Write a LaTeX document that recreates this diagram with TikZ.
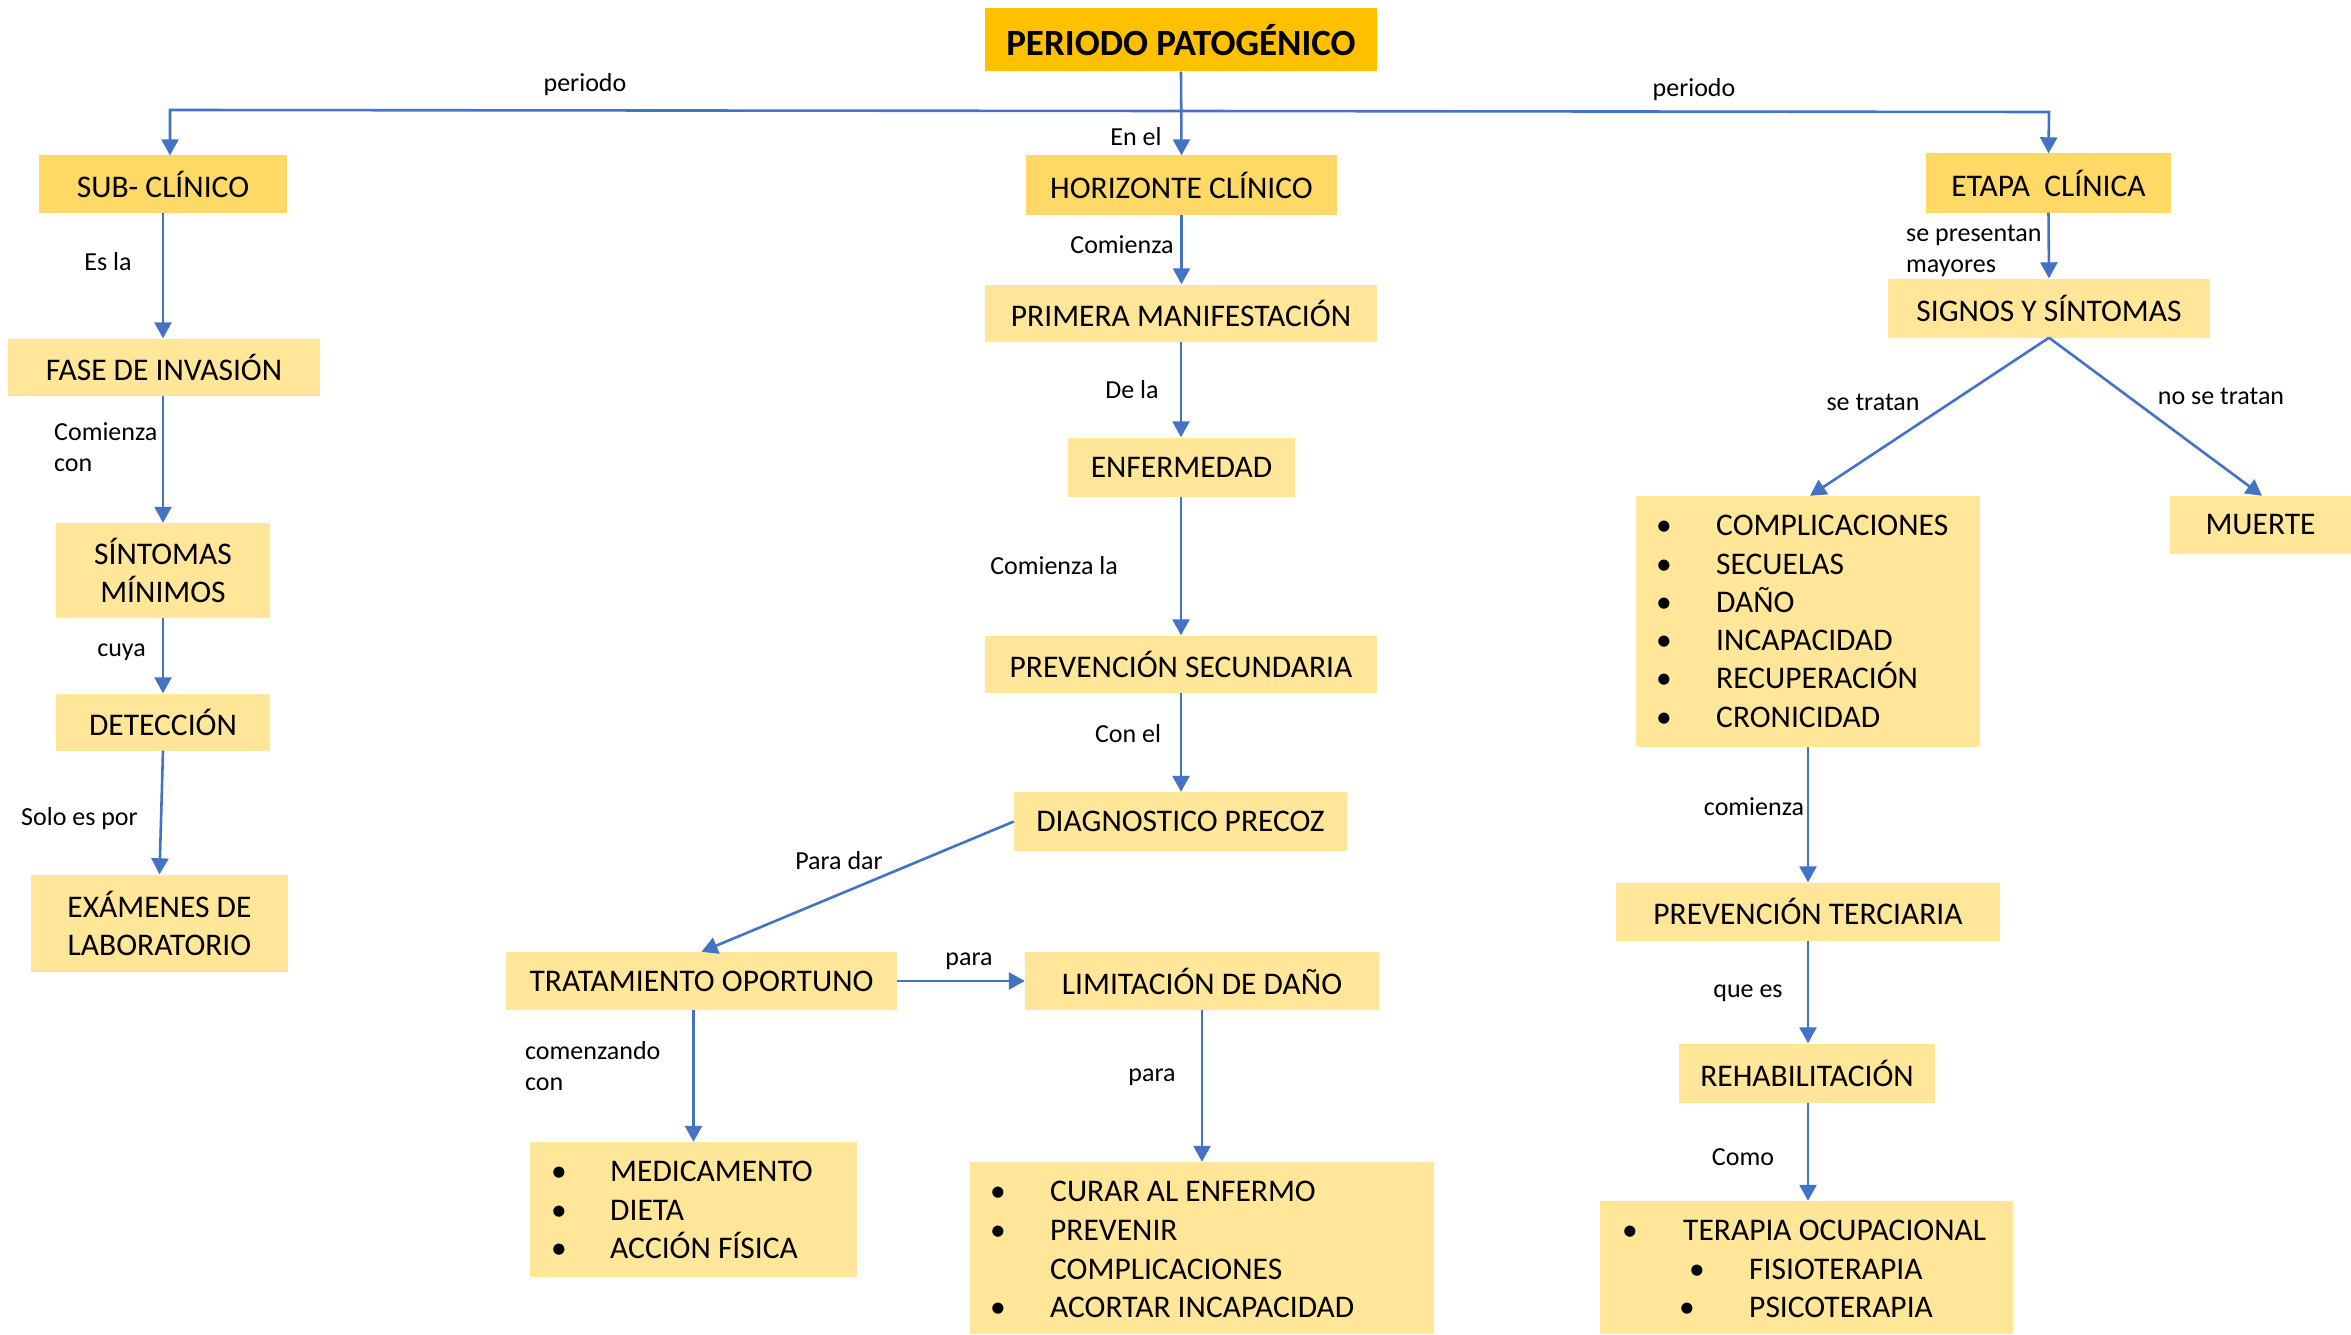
\documentclass[tikz,border=0pt]{standalone}
\usepackage{fontspec}
\setmainfont{Carlito}
\usetikzlibrary{arrows.meta,calc}
\definecolor{cTop}{HTML}{FFC000}
\definecolor{cMid}{HTML}{FFD966}
\definecolor{cBox}{HTML}{FFE699}
\definecolor{cArr}{HTML}{4472C4}
\begin{document}
\begin{tikzpicture}[x=1pt,y=-1pt,
 box/.style={fill=cBox, inner sep=0pt, font=\fontsize{31.5}{38}\selectfont, align=center},
 hbox/.style={box, fill=cMid},
 lbl/.style={inner sep=0pt, font=\fontsize{26}{31.5}\selectfont, align=left},
 itm/.style={inner sep=0pt, anchor=base west, font=\fontsize{31.5}{38}\selectfont},
 arr/.style={draw=cArr, line width=2.6pt, -{Triangle[length=16pt,width=17pt]}},
 ]
\fill[white] (0,0) rectangle (2351,1335);
\useasboundingbox (0,0) rectangle (2351,1335);

% ---------- boxes ----------
\node[box, fill=cTop, font=\fontsize{37}{42}\selectfont\bfseries, minimum width=392, minimum height=63] (title) at (1181,40) {PERIODO PATOGÉNICO};
\node[hbox, minimum width=248, minimum height=57] (sub) at (163,184) {SUB- CLÍNICO};
\node[hbox, minimum width=311, minimum height=59] (horiz) at (1181.5,185) {HORIZONTE CLÍNICO};
\node[hbox, minimum width=245, minimum height=59] (etapa) at (2048.5,183) {ETAPA\ \ CLÍNICA};

\node[box, minimum width=312, minimum height=57] (fase) at (164,367) {FASE DE INVASIÓN};
\node[box, minimum width=214, minimum height=95] (sint) at (163,570.5) {SÍNTOMAS\\MÍNIMOS};
\node[box, minimum width=214, minimum height=57] (detec) at (163,722) {DETECCIÓN};
\node[box, minimum width=257, minimum height=97] (exam) at (159.5,923) {EXÁMENES DE\\LABORATORIO};

\node[box, minimum width=392, minimum height=57] (prim) at (1181,313) {PRIMERA MANIFESTACIÓN};
\node[box, minimum width=227, minimum height=59] (enf) at (1181.5,467) {ENFERMEDAD};
\node[box, minimum width=392, minimum height=57] (prevsec) at (1181,664) {PREVENCIÓN SECUNDARIA};
\node[box, minimum width=333, minimum height=59] (diag) at (1180.5,821.5) {DIAGNOSTICO PRECOZ};
\node[box, minimum width=391, minimum height=58] (trat) at (701.5,981) {TRATAMIENTO OPORTUNO};
\node[box, minimum width=354, minimum height=58] (limit) at (1202,981) {LIMITACIÓN DE DAÑO};
\node[box, minimum width=327, minimum height=135] (medic) at (693.5,1209.5) {};
\node[box, minimum width=464, minimum height=172] (curar) at (1202,1248) {};

\node[box, minimum width=322, minimum height=59] (signos) at (2049,308) {SIGNOS Y SÍNTOMAS};
\node[box, minimum width=344, minimum height=251] (compl) at (1808,621.5) {};
\node[box, minimum width=181, minimum height=58] (muerte) at (2260.5,525) {MUERTE};
\node[box, minimum width=384, minimum height=58] (prevter) at (1808,911.5) {PREVENCIÓN TERCIARIA};
\node[box, minimum width=256, minimum height=59] (rehab) at (1807,1073) {REHABILITACIÓN};
\node[box, minimum width=413, minimum height=133] (terap) at (1806.5,1267.5) {};

% ---------- list items ----------
\node[itm] (mb1) at (551,1181) {•}; \node[itm] (mt1) at (610,1181) {MEDICAMENTO};
\node[itm] (mb2) at (551,1220) {•}; \node[itm] (mt2) at (610,1220) {DIETA};
\node[itm] (mb3) at (551,1258) {•}; \node[itm] (mt3) at (610,1258) {ACCIÓN FÍSICA};

\node[itm] (cb1) at (990,1201) {•}; \node[itm] (ct1) at (1050,1201) {CURAR AL ENFERMO};
\node[itm] (cb2) at (990,1240) {•}; \node[itm] (ct2) at (1050,1240) {PREVENIR};
\node[itm] (ct3) at (1050,1279) {COMPLICACIONES};
\node[itm] (cb4) at (990,1317) {•}; \node[itm] (ct4) at (1050,1317) {ACORTAR INCAPACIDAD};

\node[itm] (kb1) at (1656,535) {•}; \node[itm] (kt1) at (1716,535) {COMPLICACIONES};
\node[itm] (kb2) at (1656,574) {•}; \node[itm] (kt2) at (1716,574) {SECUELAS};
\node[itm] (kb3) at (1656,612) {•}; \node[itm] (kt3) at (1716,612) {DAÑO};
\node[itm] (kb4) at (1656,650) {•}; \node[itm] (kt4) at (1716,650) {INCAPACIDAD};
\node[itm] (kb5) at (1656,688) {•}; \node[itm] (kt5) at (1716,688) {RECUPERACIÓN};
\node[itm] (kb6) at (1656,727) {•}; \node[itm] (kt6) at (1716,727) {CRONICIDAD};

\node[itm] (tb1) at (1622,1240) {•}; \node[itm] (tt1) at (1683,1240) {TERAPIA OCUPACIONAL};
\node[itm] (tb2) at (1689,1279) {•}; \node[itm] (tt2) at (1749,1279) {FISIOTERAPIA};
\node[itm] (tb3) at (1679,1317) {•}; \node[itm] (tt3) at (1749,1317) {PSICOTERAPIA};

% ---------- connectors ----------
\coordinate (jL) at (170,110);
\coordinate (jM) at (1181,111);
\coordinate (jR) at (2049,112);
\draw[arr] (jM) -- (jL) -- (jL |- sub.north);
\draw[arr] (jM) -- (jR) -- (etapa.north);
\draw[arr] (title.south) -- (horiz.north);

\draw[arr] (sub.south) -- (sub.south |- fase.north);
\draw[arr] (sub.south |- fase.south) -- (sub.south |- sint.north);
\draw[arr] (sint.south) -- (detec.north);
\draw[arr] (detec.south) -- (exam.north);

\draw[arr] (horiz.south) -- (horiz.south |- prim.north);
\draw[arr] (prim.south) -- (prim.south |- enf.north);
\draw[arr] (prim.south |- enf.south) -- (prevsec.north);
\draw[arr] (prevsec.south) -- (prevsec.south |- diag.north);
\draw[arr] (diag.west) -- (trat.north);
\draw[arr] (trat.east) -- (limit.west);
\draw[arr] (trat.south -| medic.north) -- (medic.north);
\draw[arr] (limit.south) -- (curar.north);

\draw[arr] (etapa.south) -- (signos.north);
\draw[arr] (signos.south) -- ($(compl.north)+(2,0)$);
\draw[arr] (signos.south) -- ($(muerte.north)+(1.5,0)$);
\draw[arr] (compl.south) -- (prevter.north);
\draw[arr] (prevter.south) -- (prevter.south |- rehab.north);
\draw[arr] (prevter.south |- rehab.south) -- (prevter.south |- terap.north);

% ---------- labels ----------
\node[lbl] (l1) at (585,85) {periodo};
\node[lbl] (l2) at (1694,90) {periodo};
\node[lbl] (l3) at (1136,137) {En el};
\node[lbl] (l4) at (108,262) {Es la};
\node[lbl, anchor=west] (l5) at (54,447) {Comienza\\con};
\node[lbl] (l6) at (121.5,652) {cuya};
\node[lbl] (l7) at (79.5,819) {Solo es por};
\node[lbl] (l8) at (1122,245) {Comienza};
\node[lbl] (l9) at (1132,390) {De la};
\node[lbl] (l10) at (1054,566) {Comienza la};
\node[lbl] (l11) at (1128,734) {Con el};
\node[lbl] (l12) at (839,861) {Para dar};
\node[lbl] (l13) at (969,961) {para};
\node[lbl, anchor=west] (l14) at (525,1066) {comenzando\\con};
\node[lbl] (l15) at (1152,1077) {para};
\node[lbl, anchor=west] (l16) at (1906,251) {se presentan\\mayores};
\node[lbl] (l17) at (1873,402) {se tratan};
\node[lbl] (l18) at (2221,396) {no se tratan};
\node[lbl] (l19) at (1754,807) {comienza};
\node[lbl] (l20) at (1748,993) {que es};
\node[lbl] (l21) at (1743,1157) {Como};
\end{tikzpicture}
\end{document}
